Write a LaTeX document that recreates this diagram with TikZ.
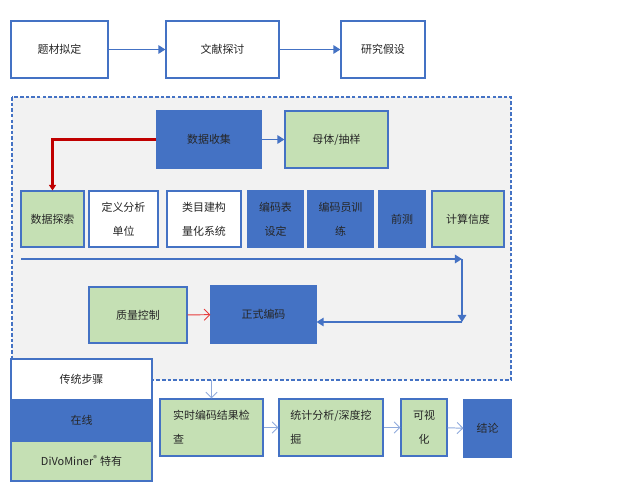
\documentclass[tikz,border=0pt]{standalone}
\usepackage{fontspec}
\newfontfamily\cjk{Noto Sans CJK SC}
\usetikzlibrary{arrows.meta}
\definecolor{OffBlue}{RGB}{68,114,196}
\definecolor{OffGreen}{RGB}{197,224,180}
\definecolor{OffGray}{RGB}{242,242,242}
\definecolor{LineBlue}{RGB}{143,170,220}
\definecolor{DarkRed}{RGB}{192,0,0}
\definecolor{LightRed}{RGB}{230,60,60}
\tikzset{
  box/.style={draw=OffBlue,line width=0.8pt,inner sep=2pt,align=center,text=black!85,
    font=\cjk\fontsize{7.8}{17}\selectfont},
  wbox/.style={box,fill=white},
  gbox/.style={box,fill=OffGreen},
  bbox/.style={box,fill=OffBlue},
  flow/.style={draw=OffBlue,line width=1.1pt,-{Triangle[length=5pt,width=6pt]}},
  lead/.style={draw=LineBlue,line width=0.7pt,-{Straight Barb[length=4pt,width=8pt]}},
}
\tikzset{area/.style={draw=OffBlue,fill=OffGray,line width=0.8pt,dash pattern=on 2.5pt off 1.5pt}}

\begin{document}
\begin{tikzpicture}[x=0.025cm,y=-0.025cm]
\useasboundingbox (0,0) rectangle (640,495);
% top row
\node[wbox,minimum width=2.425cm,minimum height=1.425cm] (tcnd) at (59.5,49.5) {题材拟定};
\node[wbox,minimum width=2.825cm,minimum height=1.425cm] (wxtt) at (222.5,49.5) {文献探讨};
\node[wbox,minimum width=2.1cm,minimum height=1.425cm] (yjjs) at (383,49.5) {研究假设};
\draw[flow] (tcnd) -- (wxtt);
\draw[flow] (wxtt) -- (yjjs);
% coding area
\coordinate (areaA) at (12,97);
\coordinate (areaB) at (511,380);
\draw[area] (areaA) rectangle (areaB);
\node[bbox,minimum width=2.6cm,minimum height=1.425cm] (sjsj) at (209,139.5) {数据收集};
\node[gbox,minimum width=2.575cm,minimum height=1.425cm] (mtcy) at (336.5,139.5) {母体/抽样};
\draw[flow] (sjsj) -- (mtcy);
\node[gbox,minimum width=1.575cm,minimum height=1.4cm] (sjts) at (52.5,219) {数据探索};
\node[wbox,minimum width=1.725cm,minimum height=1.4cm] (dydw) at (123.5,219) {定义分析\\单位};
\node[wbox,minimum width=1.85cm,minimum height=1.4cm] (lmjg) at (204,219) {类目建构\\量化系统};
\node[bbox,minimum width=1.375cm,minimum height=1.4cm] (bmsd) at (275.5,219) {编码表\\设定};
\node[bbox,minimum width=1.625cm,minimum height=1.4cm] (bmpx) at (340.5,219) {编码员训\\练};
\node[bbox,minimum width=1.15cm,minimum height=1.4cm] (qc) at (402,219) {前测};
\node[gbox,minimum width=1.8cm,minimum height=1.4cm] (jsxd) at (468,219) {计算信度};
\draw[draw=DarkRed,line width=1.5pt,-{Triangle[length=4pt,width=5pt]}] (sjsj.west) -| (sjts.north);
\node[gbox,minimum width=2.45cm,minimum height=1.4cm] (zlkz) at (138,315) {质量控制};
\node[bbox,minimum width=2.625cm,minimum height=1.425cm] (zsbm) at (263.5,314.5) {正式编码};
\coordinate (runL) at (21,259);
\coordinate (runR) at (462,259);
\coordinate (runD) at (462,322);
\draw[flow] (runL) -- (runR);
\draw[flow] (runR) -- (runD);
\draw[flow] (runD) -- (zsbm.east |- runD);
\draw[lead,draw=LightRed] (zlkz) -- (zsbm);
% legend
\node[wbox,minimum width=3.525cm,minimum height=1.025cm] (ctbz) at (81.5,379.5) {传统步骤};
\node[bbox,minimum width=3.525cm,minimum height=1.025cm] (zx) at (81.5,420.5) {在线};
\node[gbox,minimum width=3.525cm,minimum height=1.0cm] (dvty) at (81.5,461) {DiVoMiner\textsuperscript{\textregistered}\ 特有};
% bottom row
\node[gbox,align=left,minimum width=2.575cm,minimum height=1.425cm] (ssjc) at (211.5,427.5) {实时编码结果检\\查};
\node[gbox,align=left,minimum width=2.6cm,minimum height=1.425cm] (tjfx) at (331,427.5) {统计分析/深度挖\\掘};
\node[gbox,minimum width=1.15cm,minimum height=1.425cm] (ksh) at (424,427.5) {可视\\化};
\node[bbox,minimum width=1.175cm,minimum height=1.425cm] (jl) at (487.5,428.5) {结论};
\draw[lead] (ssjc.north |- areaB) -- (ssjc.north);
\draw[lead] (ssjc) -- (tjfx);
\draw[lead] (tjfx) -- (ksh);
\draw[lead] (ksh) -- (jl);
\end{tikzpicture}
\end{document}
